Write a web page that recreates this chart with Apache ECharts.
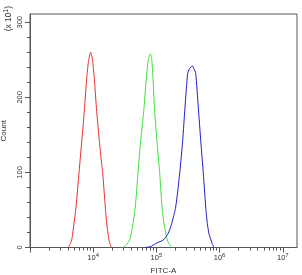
<!DOCTYPE html>
<html><head><meta charset="utf-8">
<script src="https://cdn.jsdelivr.net/npm/echarts@6/dist/echarts.min.js"></script>
<style>html,body{margin:0;padding:0;background:#fff}#c{width:302px;height:275px}</style>
</head><body><div id="c"></div>
<script>
// FITC-A values (linear units) and counts (x10^1)
const redFitc = [4036,4295,4570,4970,5345,5960,6410,6900,7280,7890,8425,9130,9750,10410,11360,12580,13290,14140,15540,16360,17780,18780,19620];
const redCount = [0,4,10,32,54,99,130,160,185,225,248,260,250,225,181,140,120,99,54,32,10,3,0];
const greenFitc = [29620,33040,37800,42630,46360,51160,56440,62950,69220,74430,80080,84560,88350,94000,102600,112800,122650,131930,148800,164200,176500];
const greenCount = [0,3,10,32,54,99,143,181,225,250,258,250,225,181,140,99,54,32,10,3,0];
const blueFitc = [66010,79200,101100,128600,154300,174700,202100,233800,260800,283500,312800,334000,369800,393400,418600,460300,502200,552300,602800,639000,679800,731000,772300,815300];
const blueCount = [0,1,6,10,19,32,54,99,143,187,232,238,242,238,232,187,143,99,54,32,18,10,4,0];

const xMin = 1000, xMax = 16777215;
const xMajorTicks = [1e3, 1e4, 1e5, 1e6, 1e7];
const xLabelTicks = [1e4, 1e5, 1e6, 1e7];
const xMinorMult = [2,3,4,5,6,7,8,9];
const yMajorTicks = [0, 100, 200, 300];
const yMinorTicks = [20,40,60,80,120,140,160,180,220,240,260,280];
const yMax = 311;

const lg = v => Math.log10(v);
const xMinor = [];
[1e3,1e4,1e5,1e6,1e7].forEach(d => xMinorMult.forEach(m => { if (d*m < xMax) xMinor.push(lg(d*m)); }));
const mk = (xs, ys) => xs.map((v, i) => [lg(v), ys[i]]);

const FONT = 'Liberation Sans, Arial, sans-serif';
const AX = '#555';
const chart = echarts.init(document.getElementById('c'), null, {renderer: 'canvas'});
chart.setOption({
  animation: false,
  grid: {left: 30, right: 5, top: 14, bottom: 27.5, show: true, borderColor: AX, borderWidth: 1, containLabel: false, outerBoundsMode: 'none'},
  xAxis: [{
    type: 'value', min: lg(xMin), max: lg(xMax), position: 'bottom',
    name: 'FITC-A', nameLocation: 'middle', nameGap: 18,
    nameTextStyle: {fontFamily: FONT, fontSize: 8, color: '#333'},
    axisLine: {show: true, lineStyle: {color: AX, width: 1}},
    axisTick: {show: true, length: 5, lineStyle: {color: AX}, customValues: xMajorTicks.map(lg)},
    axisLabel: {show: true, margin: 5, color: '#333', fontFamily: FONT, customValues: xLabelTicks.map(lg),
      formatter: v => '{b|10}{s|' + Math.round(v) + '}',
      rich: {b: {fontSize: 7.5, fontFamily: FONT, color: '#333'}, s: {fontSize: 6, fontFamily: FONT, color: '#333', verticalAlign: 'top', padding: [0,0,4,0]}}},
    splitLine: {show: false}
  }, {
    type: 'value', min: lg(xMin), max: lg(xMax), position: 'bottom',
    axisLine: {show: false},
    axisTick: {show: true, length: 3, lineStyle: {color: AX}, customValues: xMinor},
    axisLabel: {show: false}, splitLine: {show: false}
  }],
  yAxis: [{
    type: 'value', min: 0, max: yMax, position: 'left',
    name: 'Count', nameLocation: 'middle', nameGap: 14,
    nameTextStyle: {fontFamily: FONT, fontSize: 8, color: '#333'},
    axisLine: {show: true, lineStyle: {color: AX, width: 1}},
    axisTick: {show: true, length: 5, lineStyle: {color: AX}, customValues: yMajorTicks},
    axisLabel: {show: true, rotate: 90, margin: 6, fontSize: 7.5, fontFamily: FONT, color: '#333', customValues: yMajorTicks},
    splitLine: {show: false}
  }, {
    type: 'value', min: 0, max: yMax, position: 'left',
    axisLine: {show: false},
    axisTick: {show: true, length: 3, lineStyle: {color: AX}, customValues: yMinorTicks},
    axisLabel: {show: false}, splitLine: {show: false}
  }],
  graphic: [{
    type: 'text', left: 3, top: 6, rotation: Math.PI/2,
    style: {text: '(x 10{s|1})', fontFamily: FONT, fontSize: 8.5, fill: '#333',
      rich: {s: {fontSize: 6.5, fontFamily: FONT, fill: '#333', verticalAlign: 'top', padding: [0,0,4,0]}}}
  }],
  series: [
    {type: 'line', data: mk(redFitc, redCount), showSymbol: false, smooth: 0.2, lineStyle: {color: '#e8302c', width: 1}, silent: true},
    {type: 'line', data: mk(greenFitc, greenCount), showSymbol: false, smooth: 0.2, lineStyle: {color: '#3ee03e', width: 1}, silent: true},
    {type: 'line', data: mk(blueFitc, blueCount), showSymbol: false, smooth: 0.2, lineStyle: {color: '#2020c8', width: 1}, silent: true}
  ]
});
</script></body></html>
